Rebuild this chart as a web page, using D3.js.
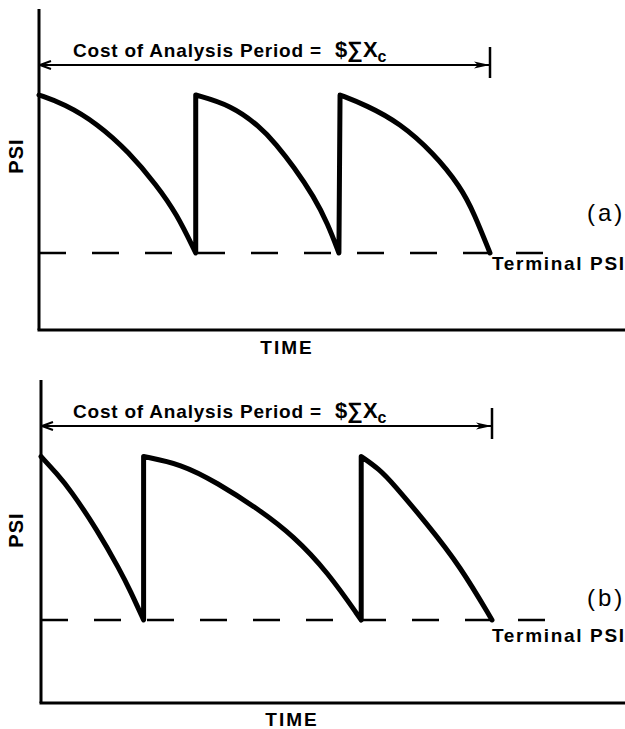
<!DOCTYPE html>
<html>
<head>
<meta charset="utf-8">
<script src="https://cdn.jsdelivr.net/npm/d3@7"></script>
<style>
  body { margin: 0; background: #fff; }
  text { font-family: "Liberation Sans", Arial, sans-serif; fill: #000; }
</style>
</head>
<body>
<div id="vis-container"></div>
<script>
// values: time in years, serviceability (PSI)
const timeDomain = [0, 26];
const analysisPeriod = 20;
const terminalPSI = 2.0;
const initialPSI = 4.2;
const terminalLineEnd = 22.5;

// (a) three equal performance periods
const cyclesA = [
  [[0, 4.2], [1.1, 4.08], [2.6, 3.8], [4.0, 3.4], [5.2, 2.95], [6.1, 2.55], [6.95, 2.0]],
  [[6.95, 4.2], [8.5, 4.06], [9.8, 3.76], [10.5, 3.52], [11.3, 3.2], [12.2, 2.78], [12.8, 2.41], [13.3, 2.0]],
  [[13.35, 4.2], [14.5, 4.06], [16.0, 3.81], [17.5, 3.39], [18.7, 2.92], [19.3, 2.55], [20.0, 2.0]]
];

// (b) short, long, short periods
const cyclesB = [
  [[0, 4.2], [0.7, 3.97], [1.3, 3.75], [2.5, 3.21], [3.5, 2.67], [3.95, 2.4], [4.55, 2.0]],
  [[4.55, 4.2], [6.2, 4.1], [7.8, 3.85], [9.7, 3.48], [11.2, 3.13], [12.7, 2.65], [14.2, 2.0]],
  [[14.2, 4.2], [15.0, 4.03], [15.6, 3.84], [17.1, 3.3], [18.6, 2.72], [20.0, 2.0]]
];

const panelLabels = ["(a)", "(b)"];
const costLabel = "Cost of Analysis Period =";
const xLabel = "TIME";
const yLabel = "PSI";
const terminalLabel = "Terminal PSI";

// layout of the two panels (pixels)
const panels = [
  { cycles: cyclesA, label: panelLabels[0], left: 39, top: 9, bottom: 330, yTerm: 253, yInit: 95,
    arrowY: 65, psiY: 156, timeX: 287, timeY: 354, tagY: 221, termY: 270 },
  { cycles: cyclesB, label: panelLabels[1], left: 41, top: 380, bottom: 703, yTerm: 620, yInit: 456.5,
    arrowY: 426, psiY: 530, timeX: 292, timeY: 726, tagY: 606, termY: 642 }
];

const width = 625;
const height = 729;

const svg = d3.select('#vis-container').append('svg')
  .attr('width', width)
  .attr('height', height);

svg.append('rect').attr('width', width).attr('height', height).attr('fill', '#fff');

const defs = svg.append('defs');
defs.append('marker')
  .attr('id', 'arrowL')
  .attr('viewBox', '0 0 14 10')
  .attr('refX', 0).attr('refY', 5)
  .attr('markerWidth', 14).attr('markerHeight', 10)
  .attr('markerUnits', 'userSpaceOnUse')
  .attr('orient', 'auto')
  .append('path')
  .attr('d', 'M12,1 L1,5 L12,9')
  .attr('fill', 'none').attr('stroke', '#000').attr('stroke-width', 2);
defs.append('marker')
  .attr('id', 'arrowR')
  .attr('viewBox', '0 0 16 10')
  .attr('refX', 16).attr('refY', 5)
  .attr('markerWidth', 16).attr('markerHeight', 10)
  .attr('markerUnits', 'userSpaceOnUse')
  .attr('orient', 'auto')
  .append('path')
  .attr('d', 'M0,1.5 L16,5 L0,8.5 L4,5 Z')
  .attr('fill', '#000');

panels.forEach(function (p) {
  const x = d3.scaleLinear().domain(timeDomain).range([p.left, p.left + 22.55 * timeDomain[1]]);
  const y = d3.scaleLinear().domain([terminalPSI, initialPSI]).range([p.yTerm, p.yInit]);

  const g = svg.append('g');

  // axes (no ticks)
  g.append('line')
    .attr('x1', p.left).attr('x2', p.left)
    .attr('y1', p.top).attr('y2', p.bottom)
    .attr('stroke', '#000').attr('stroke-width', 3);
  g.append('line')
    .attr('x1', p.left - 1.5).attr('x2', width)
    .attr('y1', p.bottom).attr('y2', p.bottom)
    .attr('stroke', '#000').attr('stroke-width', 3);

  // terminal PSI dashed line
  g.append('line')
    .attr('x1', x(0)).attr('x2', x(terminalLineEnd))
    .attr('y1', y(terminalPSI)).attr('y2', y(terminalPSI))
    .attr('stroke', '#000').attr('stroke-width', 2.5)
    .attr('stroke-dasharray', '27,26');

  // PSI history: curves joined by vertical jumps (overlays)
  const line = d3.line()
    .x(function (d) { return x(d[0]); })
    .y(function (d) { return y(d[1]); })
    .curve(d3.curveBasis);
  let dStr = '';
  p.cycles.forEach(function (c, i) {
    const s = line(c);
    dStr += i === 0 ? s : s.replace(/^M/, 'L');
  });
  g.append('path')
    .attr('d', dStr)
    .attr('fill', 'none')
    .attr('stroke', '#000')
    .attr('stroke-width', 5)
    .attr('stroke-linejoin', 'round')
    .attr('stroke-linecap', 'round');

  // analysis period arrow
  g.append('line')
    .attr('x1', x(0)).attr('x2', x(analysisPeriod))
    .attr('y1', p.arrowY).attr('y2', p.arrowY)
    .attr('stroke', '#000').attr('stroke-width', 2)
    .attr('marker-start', 'url(#arrowL)')
    .attr('marker-end', 'url(#arrowR)');
  g.append('line')
    .attr('x1', x(analysisPeriod)).attr('x2', x(analysisPeriod))
    .attr('y1', p.arrowY - 18).attr('y2', p.arrowY + 13)
    .attr('stroke', '#000').attr('stroke-width', 2.5);

  // cost label
  g.append('text')
    .attr('x', 73).attr('y', p.arrowY - 8)
    .attr('font-size', 19).attr('font-weight', 'bold')
    .attr('textLength', 248).attr('lengthAdjust', 'spacing')
    .text(costLabel);
  const sum = g.append('text')
    .attr('x', 335).attr('y', p.arrowY - 8)
    .attr('font-size', 22).attr('font-weight', 'bold');
  sum.append('tspan').text('$\u2211X');
  sum.append('tspan').attr('font-size', 16).attr('dy', 5).text('c');

  // axis titles
  g.append('text')
    .attr('transform', 'translate(23,' + p.psiY + ') rotate(-90)')
    .attr('text-anchor', 'middle')
    .attr('font-size', 20).attr('font-weight', 'bold')
    .attr('letter-spacing', 1)
    .text(yLabel);
  g.append('text')
    .attr('x', p.timeX).attr('y', p.timeY)
    .attr('text-anchor', 'middle')
    .attr('font-size', 19).attr('font-weight', 'bold')
    .attr('letter-spacing', 2)
    .text(xLabel);

  // panel tag and terminal label
  g.append('text')
    .attr('x', 587).attr('y', p.tagY)
    .attr('font-size', 24)
    .attr('letter-spacing', 3)
    .text(p.label);
  g.append('text')
    .attr('x', 492).attr('y', p.termY)
    .attr('font-size', 19).attr('font-weight', 'bold')
    .attr('textLength', 132).attr('lengthAdjust', 'spacing')
    .text(terminalLabel);
});
</script>
</body>
</html>
